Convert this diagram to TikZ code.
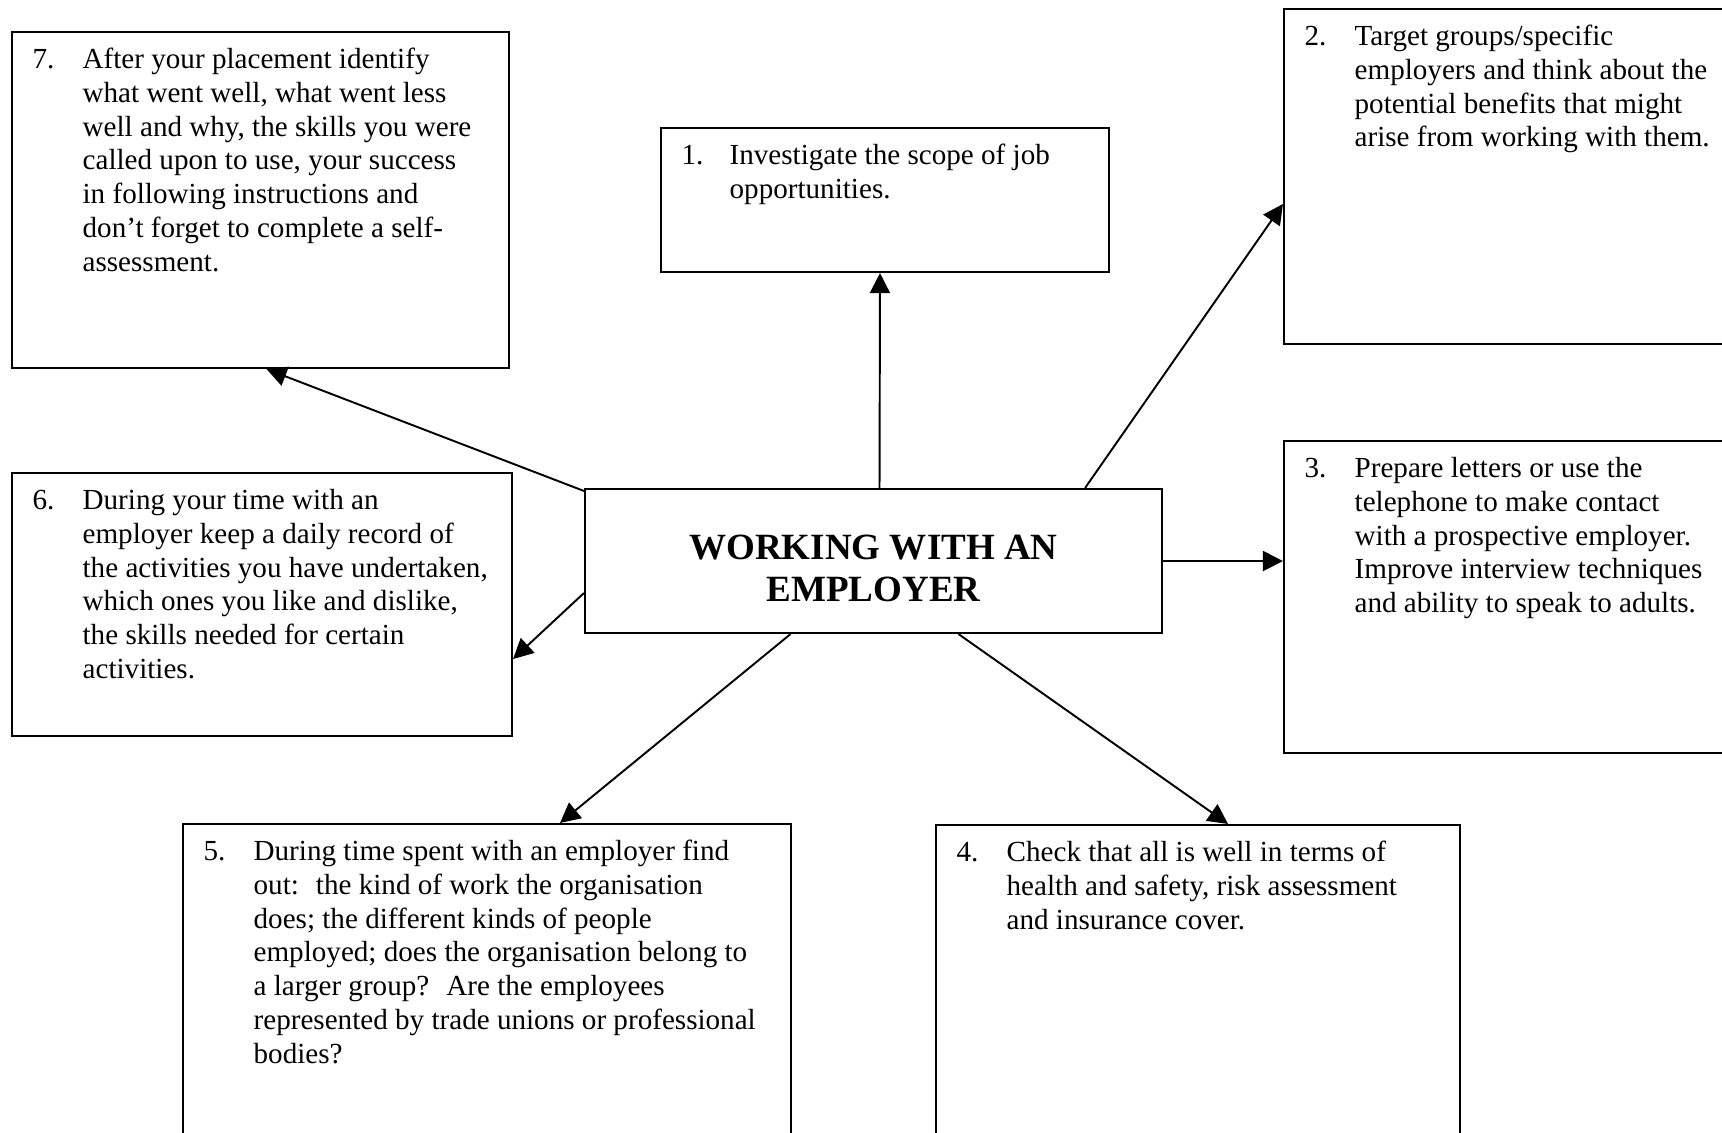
\documentclass[tikz,border=0pt]{standalone}
\usepackage{fontspec}
\setmainfont{Liberation Serif}
\usetikzlibrary{calc,fit,arrows.meta}

\begin{document}
\begin{tikzpicture}[x=0.01cm,y=-0.01cm]
  \tikzset{box/.style={draw,line width=0.6pt,inner sep=0pt},
    num/.style={anchor=north west,inner sep=0pt,font=\fontsize{8.28}{9.59}\selectfont},
    txt/.style={num,align=left},
    arr/.style={line width=0.55pt,-{Triangle[length=2mm,width=2mm]}}}
  \useasboundingbox (0,0) rectangle (1722,1132);
  \clip (0,0) rectangle (1722,1132);
  % centre box
  \node[box,fit={(585,489) (1162,633)}] (hub) {};
  \node[font=\fontsize{10.53}{11.95}\selectfont\bfseries,align=center] (title) at ($(hub)+(0,7)$) {WORKING WITH AN\\EMPLOYER};
  % the seven steps
  \node[box,fit={(661,128) (1109,272)}] (b1) {};
  \node[box,fit={(1284,9) (1780,344)}] (b2) {};
  \node[box,fit={(1284,441) (1780,753)}] (b3) {};
  \node[box,fit={(936,825) (1460,1180)}] (b4) {};
  \node[box,fit={(183,824) (791,1180)}] (b5) {};
  \node[box,fit={(12,473) (512,736)}] (b6) {};
  \node[box,fit={(12,32) (509,368)}] (b7) {};
  \node[num] (n1) at ($(b1.north west)+(21,13.4)$) {\strut 1.};
  \node[txt] (t1) at ($(b1.north west)+(69,13.4)$) {\strut Investigate the scope of job\\opportunities.};
  \node[num] (n2) at ($(b2.north west)+(21,13.4)$) {\strut 2.};
  \node[txt] (t2) at ($(b2.north west)+(71,13.4)$) {\strut Target groups/specific\\employers and think about the\\potential benefits that might\\arise from working with them.};
  \node[num] (n3) at ($(b3.north west)+(21,13.4)$) {\strut 3.};
  \node[txt] (t3) at ($(b3.north west)+(71,13.4)$) {\strut Prepare letters or use the\\telephone to make contact\\with a prospective employer.\\Improve interview techniques\\and ability to speak to adults.};
  \node[num] (n4) at ($(b4.north west)+(21,13.4)$) {\strut 4.};
  \node[txt] (t4) at ($(b4.north west)+(71,13.4)$) {\strut Check that all is well in terms of\\health and safety, risk assessment\\and insurance cover.};
  \node[num] (n5) at ($(b5.north west)+(21,13.4)$) {\strut 5.};
  \node[txt] (t5) at ($(b5.north west)+(71,13.4)$) {\strut During time spent with an employer find\\out:~ the kind of work the organisation\\does; the different kinds of people\\employed; does the organisation belong to\\a larger group?~ Are the employees\\represented by trade unions or professional\\bodies?};
  \node[num] (n6) at ($(b6.north west)+(21,13.4)$) {\strut 6.};
  \node[txt] (t6) at ($(b6.north west)+(71,13.4)$) {\strut During your time with an\\employer keep a daily record of\\the activities you have undertaken,\\which ones you like and dislike,\\the skills needed for certain\\activities.};
  \node[num] (n7) at ($(b7.north west)+(21,13.4)$) {\strut 7.};
  \node[txt] (t7) at ($(b7.north west)+(71,13.4)$) {\strut After your placement identify\\what went well, what went less\\well and why, the skills you were\\called upon to use, your success\\in following instructions and\\don’t forget to complete a self-\\assessment.};
  % arrows out of the centre
  \draw[arr] ($(hub.north)+(6,0)$) -- ($(b1.south)+(-5,0)$);
  \draw[arr] ($(hub.north east)+(-78,0)$) -- ($(b2.west)+(0,27.5)$);
  \draw[arr] (hub.east) -- (hub.east -| b3.west);
  \draw[arr] ($(hub.south)+(85,0)$) -- ($(b4.north)+(30,0)$);
  \draw[arr] ($(hub.south)+(-83,0)$) -- ($(b5.north)+(73,0)$);
  \draw[arr] ($(hub.west)+(0,32)$) -- ($(b6.east)+(0,54.5)$);
  \draw[arr] ($(hub.north west)+(0,3)$) -- ($(b7.south)+(6,0)$);
\end{tikzpicture}
\end{document}
